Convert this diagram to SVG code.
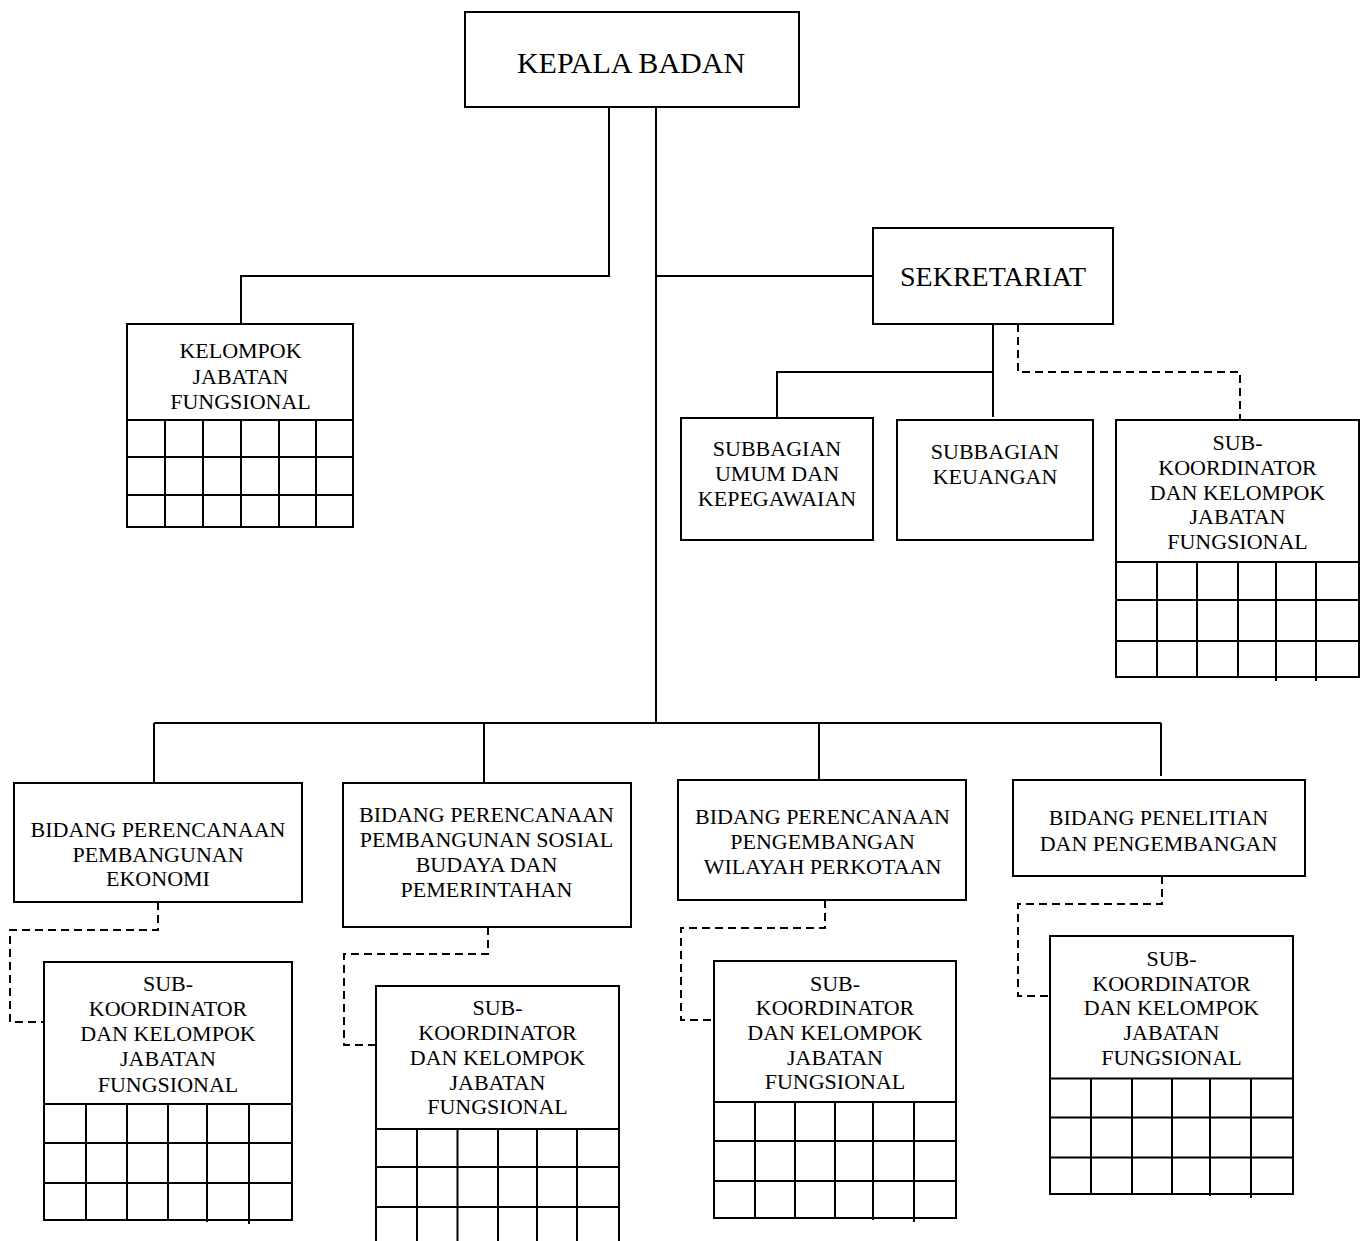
<svg xmlns="http://www.w3.org/2000/svg" width="1366" height="1241" viewBox="0 0 1366 1241">
<style>
.box{fill:#fff;stroke:#000;stroke-width:2}
.grid{fill:none;stroke:#000;stroke-width:2}
.ln{fill:none;stroke:#000;stroke-width:2}
.ds{fill:none;stroke:#000;stroke-width:2;stroke-dasharray:8 5}
text{font-family:"Liberation Serif","Times New Roman",serif;fill:#000;text-anchor:middle}
.big{font-size:30px}
.sm{font-size:22px}
</style>
<rect width="1366" height="1241" fill="#fff"/>
<g id="connectors">
<path class="ln" d="M609,107 V276 H241 V324"/>
<path class="ln" d="M656,107 V723"/>
<path class="ln" d="M656,276 H873"/>
<path class="ln" d="M993,324 V417"/>
<path class="ln" d="M993,372 H777 V418"/>
<path class="ds" d="M1018,324 V372 H1240 V420"/>
<path class="ln" d="M154,723 H1161"/>
<path class="ln" d="M154,723 V783"/>
<path class="ln" d="M484,723 V783"/>
<path class="ln" d="M819,723 V780"/>
<path class="ln" d="M1161,723 V776"/>
<path class="ds" d="M158,902 V930 H10 V1022 H44"/>
<path class="ds" d="M488,927 V954 H344 V1045 H376"/>
<path class="ds" d="M825,900 V928 H681 V1020 H714"/>
<path class="ds" d="M1162,876 V904 H1018 V996 H1050"/>
</g>
<g id="kepala">
<rect class="box" x="465" y="12" width="334" height="95"/>
<text class="big" x="631" y="73">KEPALA BADAN</text>
</g>
<g id="sekretariat">
<rect class="box" x="873" y="228" width="240" height="96"/>
<text x="993" y="285.5" style="font-size:28px">SEKRETARIAT</text>
</g>
<g id="kelompok">
<rect class="box" x="127" y="324" width="226" height="203"/>
<path class="grid" d="M127,420 H353 M127,457 H353 M127,495 H353 M165,420 V527 M203,420 V527 M241,420 V527 M279,420 V527 M316,420 V527"/>
<text class="sm" x="240.5" y="358">KELOMPOK</text>
<text class="sm" x="240.5" y="384">JABATAN</text>
<text class="sm" x="240.5" y="409">FUNGSIONAL</text>
</g>
<g id="subbagian-umum">
<rect class="box" x="681" y="418" width="192" height="122"/>
<text class="sm" x="777" y="456">SUBBAGIAN</text>
<text class="sm" x="777" y="481">UMUM DAN</text>
<text class="sm" x="777" y="506">KEPEGAWAIAN</text>
</g>
<g id="subbagian-keuangan">
<rect class="box" x="897" y="420" width="196" height="120"/>
<text class="sm" x="995" y="459">SUBBAGIAN</text>
<text class="sm" x="995" y="484">KEUANGAN</text>
</g>
<g id="subkoord-sekretariat">
<rect class="box" x="1116" y="420" width="243" height="257"/>
<path class="grid" d="M1116,562 H1359 M1116,600 H1359 M1116,641 H1359 M1157,562 V677 M1197,562 V677 M1238,562 V677 M1276,562 V681 M1316,562 V681"/>
<text class="sm" x="1237.5" y="450">SUB-</text>
<text class="sm" x="1237.5" y="475">KOORDINATOR</text>
<text class="sm" x="1237.5" y="499.5">DAN KELOMPOK</text>
<text class="sm" x="1237.5" y="524">JABATAN</text>
<text class="sm" x="1237.5" y="549">FUNGSIONAL</text>
</g>
<g id="bidang-ekonomi">
<rect class="box" x="14" y="783" width="288" height="119"/>
<text class="sm" x="158" y="837">BIDANG PERENCANAAN</text>
<text class="sm" x="158" y="861.5">PEMBANGUNAN</text>
<text class="sm" x="158" y="886">EKONOMI</text>
</g>
<g id="subkoord-ekonomi">
<rect class="box" x="44" y="962" width="248" height="258"/>
<path class="grid" d="M44,1104 H292 M44,1143 H292 M44,1183 H292 M86,1104 V1220 M127,1104 V1220 M168,1104 V1220 M207,1104 V1222 M249,1104 V1224"/>
<text class="sm" x="168" y="991">SUB-</text>
<text class="sm" x="168" y="1016">KOORDINATOR</text>
<text class="sm" x="168" y="1040.5">DAN KELOMPOK</text>
<text class="sm" x="168" y="1066">JABATAN</text>
<text class="sm" x="168" y="1091.5">FUNGSIONAL</text>
</g>
<g id="bidang-sosial">
<rect class="box" x="343" y="783" width="288" height="144"/>
<text class="sm" x="486.5" y="822">BIDANG PERENCANAAN</text>
<text class="sm" x="486.5" y="846.5">PEMBANGUNAN SOSIAL</text>
<text class="sm" x="486.5" y="871.5">BUDAYA DAN</text>
<text class="sm" x="486.5" y="896.5">PEMERINTAHAN</text>
</g>
<g id="subkoord-sosial">
<rect class="box" x="376" y="986" width="243" height="270"/>
<path class="grid" d="M376,1129 H619 M376,1167 H619 M376,1207 H619 M417,1129 V1241 M457.5,1129 V1241 M498,1129 V1241 M537,1129 V1241 M577,1129 V1241"/>
<text class="sm" x="497.5" y="1015">SUB-</text>
<text class="sm" x="497.5" y="1040">KOORDINATOR</text>
<text class="sm" x="497.5" y="1064.5">DAN KELOMPOK</text>
<text class="sm" x="497.5" y="1090">JABATAN</text>
<text class="sm" x="497.5" y="1114">FUNGSIONAL</text>
</g>
<g id="bidang-wilayah">
<rect class="box" x="678" y="780" width="288" height="120"/>
<text class="sm" x="822.5" y="823.5">BIDANG PERENCANAAN</text>
<text class="sm" x="822.5" y="849">PENGEMBANGAN</text>
<text class="sm" x="822.5" y="873.5">WILAYAH PERKOTAAN</text>
</g>
<g id="subkoord-wilayah">
<rect class="box" x="714" y="961" width="242" height="257"/>
<path class="grid" d="M714,1102 H956 M714,1141 H956 M714,1181 H956 M755,1102 V1218 M795,1102 V1218 M835,1102 V1217 M873,1102 V1220 M914,1102 V1222"/>
<text class="sm" x="835" y="991">SUB-</text>
<text class="sm" x="835" y="1015">KOORDINATOR</text>
<text class="sm" x="835" y="1040">DAN KELOMPOK</text>
<text class="sm" x="835" y="1065">JABATAN</text>
<text class="sm" x="835" y="1089">FUNGSIONAL</text>
</g>
<g id="bidang-litbang">
<rect class="box" x="1013" y="780" width="292" height="96"/>
<text class="sm" x="1158.5" y="825">BIDANG PENELITIAN</text>
<text class="sm" x="1158.5" y="851">DAN PENGEMBANGAN</text>
</g>
<g id="subkoord-litbang">
<rect class="box" x="1050" y="936" width="243" height="258"/>
<path class="grid" d="M1050,1078.5 H1293 M1050,1117.5 H1293 M1050,1157.5 H1293 M1091,1078.5 V1194 M1132,1078.5 V1194 M1172,1078.5 V1194 M1210,1078.5 V1196 M1251,1078.5 V1198"/>
<text class="sm" x="1171.5" y="966">SUB-</text>
<text class="sm" x="1171.5" y="991">KOORDINATOR</text>
<text class="sm" x="1171.5" y="1015">DAN KELOMPOK</text>
<text class="sm" x="1171.5" y="1040">JABATAN</text>
<text class="sm" x="1171.5" y="1065">FUNGSIONAL</text>
</g>
</svg>
